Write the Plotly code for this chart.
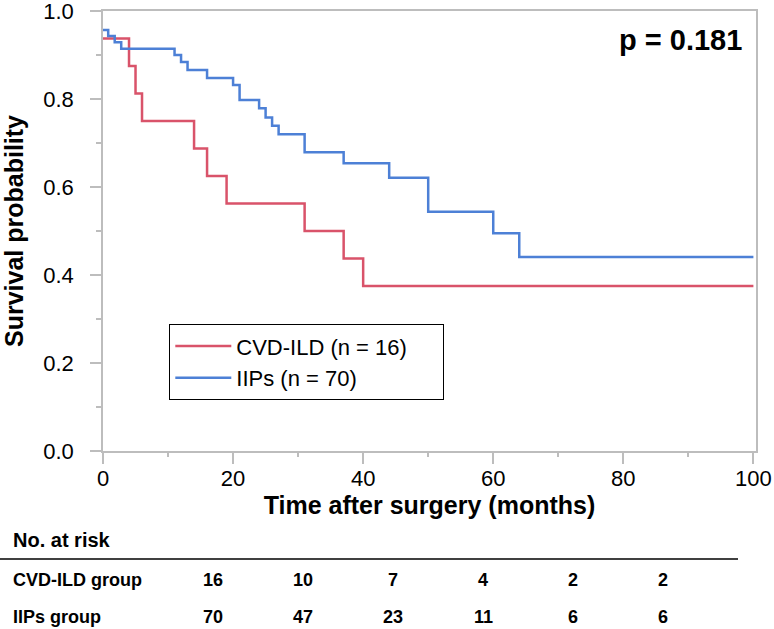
import plotly.graph_objects as go

# ---- data ----
cvd_time = [0, 4, 5, 6, 14, 16, 19, 31, 37, 40, 100]
cvd_surv = [0.9375, 0.875, 0.8125, 0.75, 0.6875, 0.625, 0.5625, 0.5, 0.4375, 0.375, 0.375]

iip_time = [0, 0.8, 1.8, 2.8, 11, 12, 13, 16, 20, 21, 24, 25, 26, 27, 31, 37, 44, 50, 60, 64, 100]
iip_surv = [0.957, 0.943, 0.929, 0.914, 0.900, 0.884, 0.866, 0.848, 0.832, 0.798, 0.779,
            0.758, 0.739, 0.720, 0.679, 0.654, 0.621, 0.544, 0.495, 0.441, 0.441]

series_names = ["CVD-ILD (n = 16)", "IIPs (n = 70)"]
risk_groups = ["CVD-ILD group", "IIPs group"]
risk_cvd = [16, 10, 7, 4, 2, 2]
risk_iip = [70, 47, 23, 11, 6, 6]
p_text = "p = 0.181"

RED = "#d9536a"
BLUE = "#4d80d6"
FONT = "Liberation Sans, Arial, Helvetica, sans-serif"
PAD = "\u00a0" * 5  # right padding inside legend box

fig = go.Figure()
fig.add_trace(go.Scatter(x=cvd_time, y=cvd_surv, mode="lines", line_shape="hv",
                         line=dict(color=RED, width=2.5), name=series_names[0] + PAD))
fig.add_trace(go.Scatter(x=iip_time, y=iip_surv, mode="lines", line_shape="hv",
                         line=dict(color=BLUE, width=2.5), name=series_names[1]))

# plot-area pixel geometry
L, R, T, B = 103, 756, 11, 451
W, H = R - L, B - T


def px(xp):
    return (xp - L) / W


def py(yp):
    return (B - yp) / H


fig.update_layout(
    width=774, height=629,
    margin=dict(l=L, r=774 - R, t=T, b=629 - B, autoexpand=False),
    paper_bgcolor="white", plot_bgcolor="white",
    font=dict(family=FONT, color="black"),
    showlegend=True,
    legend=dict(x=px(169), y=py(324), xanchor="left", yanchor="top",
                bordercolor="black", borderwidth=1.3, bgcolor="white",
                itemwidth=56,
                font=dict(size=22, family=FONT)),
)

axis_col = "#bdbdbd"
fig.update_xaxes(range=[0, 100.4], tickmode="array", tickvals=[0, 20, 40, 60, 80, 100],
                 automargin=False, ticklabeloverflow="allow",
                 ticks="outside", ticklen=11, tickcolor=axis_col, tickwidth=1.5,
                 ticklabelstandoff=-4,
                 minor=dict(tickvals=[10, 30, 50, 70, 90], ticks="outside", ticklen=4,
                            tickcolor=axis_col, tickwidth=1.5),
                 showline=True, linecolor=axis_col, linewidth=1.5, mirror=True,
                 showgrid=False, zeroline=False,
                 tickfont=dict(size=22),
                 title=dict(text="<b>Time after surgery (months)</b>", font=dict(size=25), standoff=6))
fig.update_yaxes(range=[0, 1.0], tickmode="array", tickvals=[0, 0.2, 0.4, 0.6, 0.8, 1.0],
                 ticktext=["0.0", "0.2", "0.4", "0.6", "0.8", "1.0"],
                 automargin=False, ticklabeloverflow="allow",
                 ticks="outside", ticklen=11, tickcolor=axis_col, tickwidth=1.5,
                 ticklabelstandoff=12,
                 minor=dict(tickvals=[0.1, 0.3, 0.5, 0.7, 0.9], ticks="outside", ticklen=5,
                            tickcolor=axis_col, tickwidth=1.5),
                 showline=True, linecolor=axis_col, linewidth=1.5, mirror=True,
                 showgrid=False, zeroline=False,
                 tickfont=dict(size=22),
                 title=dict(text="<b>Survival probability</b>", font=dict(size=25), standoff=14))

# p-value
fig.add_annotation(xref="paper", yref="paper", x=px(744), y=py(40), xanchor="right", yanchor="middle",
                   text="<b>" + p_text + "</b>", showarrow=False, font=dict(size=29))

# risk table
fig.add_annotation(xref="paper", yref="paper", x=px(11), y=py(540), xanchor="left", yanchor="middle",
                   text="<b>No. at risk</b>", showarrow=False, font=dict(size=20))
fig.add_shape(type="line", xref="paper", yref="paper", x0=px(0), x1=px(738), y0=py(559), y1=py(559),
              line=dict(color="black", width=1.5))
row_y = [580, 617]
col_x0, col_dx = 213, 90
for r, (grp, vals) in enumerate(zip(risk_groups, [risk_cvd, risk_iip])):
    fig.add_annotation(xref="paper", yref="paper", x=px(11), y=py(row_y[r]), xanchor="left",
                       yanchor="middle", text="<b>" + grp + "</b>", showarrow=False, font=dict(size=18))
    for i, v in enumerate(vals):
        fig.add_annotation(xref="paper", yref="paper", x=px(col_x0 + i * col_dx), y=py(row_y[r]),
                           xanchor="center", yanchor="middle", text="<b>%d</b>" % v,
                           showarrow=False, font=dict(size=18))

fig.write_html("out.html", config={"displayModeBar": False},
               post_script="document.body.style.margin='0';document.body.style.overflow='hidden';")
